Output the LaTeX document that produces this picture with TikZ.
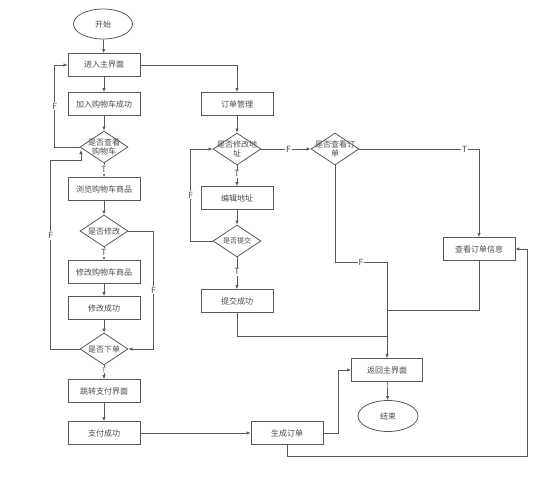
\documentclass[tikz,border=0pt]{standalone}
\usepackage{fontspec}
\newfontfamily\cjk{Noto Sans CJK SC}
\usetikzlibrary{shapes.geometric,arrows.meta}
\definecolor{lineclr}{HTML}{5A5A5A}
\definecolor{txtclr}{HTML}{4A4A4A}
\begin{document}
\begin{tikzpicture}[x=1pt,y=-1pt,every node/.style={font=\cjk\fontsize{8}{9}\selectfont,text=txtclr}]
    \tikzset{
      stepbox/.style={draw=lineclr,rectangle,line width=0.8pt,
        minimum width=72pt,minimum height=23pt,inner sep=1pt},
      term/.style={draw=lineclr,ellipse,line width=0.8pt,
        minimum width=59pt,minimum height=30pt,inner sep=1pt},
      dec/.style={draw=lineclr,diamond,line width=0.8pt,
        minimum width=48pt,minimum height=32pt,inner sep=0pt},
      dtext/.style={align=center,inner sep=0pt,font=\cjk\fontsize{8}{8.5}\selectfont},
      lbl/.style={fill=white,inner sep=1pt,font=\cjk\fontsize{8.5}{9}\selectfont},
      conn/.style={draw=lineclr,line width=0.7pt},
      arr/.style={conn,-{Latex[length=4pt,width=3.5pt]}}
    }
    \useasboundingbox (0,0) rectangle (546,484);

    % left column
    \node[term] (start) at (103,24) {开始};
    \node[stepbox] (main) at (104,65) {进入主界面};
    \node[stepbox] (addok) at (104,104) {加入购物车成功};
    \node[dec,label={[dtext]center:是否查看\\购物车}] (qcart) at (104,147) {};
    \coordinate (qcartin) at (81,150);
    \node[stepbox] (browse) at (104,189) {浏览购物车商品};
    \node[dec,label={[dtext]center:是否修改}] (qmod) at (104,231) {};
    \node[stepbox] (modgoods) at (104,272) {修改购物车商品};
    \node[stepbox] (modok) at (104,308) {修改成功};
    \node[dec,label={[dtext]center:是否下单}] (qorder) at (104,349) {};
    \node[stepbox] (jump) at (104,391) {跳转支付界面};
    \node[stepbox] (payok) at (104,433) {支付成功};

    % middle column
    \node[stepbox] (ordmgr) at (237,104) {订单管理};
    \node[dec,label={[dtext]center:是否修改地\\址}] (qaddr) at (237,149) {};
    \node[stepbox] (editaddr) at (237,198) {编辑地址};
    \node[dec,label={[dtext,font=\cjk\fontsize{7}{8}\selectfont]center:是否提交}] (qsubmit) at (237,241) {};
    \node[stepbox] (subok) at (237,301) {提交成功};
    \node[stepbox] (genorder) at (287,433) {生成订单};

    % right column
    \node[dec,label={[dtext]center:是否查看订\\单}] (qview) at (335,149) {};
    \node[stepbox] (viewinfo) at (479,249) {查看订单信息};
    \node[stepbox,minimum width=71pt] (back) at (387,370) {返回主界面};
    \node[term,minimum width=60pt,minimum height=31pt] (end) at (388,416) {结束};
    \coordinate (jF) at (387,262);

    % shopping cart flow
    \draw[arr] (start) -- (main);
    \draw[arr] (main) -- (addok);
    \draw[arr] (addok) -- (qcart);
    \draw[arr] (qcart.west) -- ++(-25,0) |- node[lbl,pos=0.25] {F} (main.west);
    \draw[arr] (qcart) -- node[lbl,pos=0.45] {T} (browse);
    \draw[arr] (browse) -- (qmod);
    \draw[arr] (qmod) -- node[lbl,pos=0.4] {T} (modgoods);
    \draw[arr] (modgoods) -- (modok);
    \draw[arr] (modok) -- (qorder);
    \draw[arr] (qmod.east) -- ++(25,0) |- node[lbl,pos=0.25] {F} (qorder.east);
    \draw[arr] (qorder.west) -- ++(-29,0) |- node[lbl,pos=0.3] {F} (81,160) -- (qcartin);
    \draw[arr] (qorder) -- node[lbl,pos=0.35,font=\cjk\fontsize{6}{7}\selectfont] {T} (jump);
    \draw[arr] (jump) -- (payok);
    \draw[arr] (payok) -- (genorder);
    \draw[arr] (genorder.east) -- ++(15,0) |- (back.west);
    \draw[arr] (genorder.south) |- (527,456) |- (viewinfo.east);

    % order management flow
    \draw[arr] (main.east) -| (ordmgr.north);
    \draw[arr] (ordmgr) -- (qaddr);
    \draw[arr] (qaddr.east) -- node[lbl,pos=0.55] {F} (qview.west);
    \draw[arr] (qaddr) -- node[lbl,pos=0.4] {T} (editaddr);
    \draw[arr] (editaddr) -- (qsubmit);
    \draw[arr] (qsubmit.west) -- ++(-22,0) |- node[lbl,pos=0.25] {F} (qaddr.west);
    \draw[arr] (qsubmit) -- node[lbl,pos=0.45] {T} (subok);
    \draw[arr] (qview.east) -| node[lbl,pos=0.44] {T} (viewinfo.north);
    \draw[arr] (qview.south) |- node[lbl,pos=0.75] {F} (jF) -- (back.north);
    \draw[conn] (viewinfo.south) |- (387,310);
    \draw[conn] (subok.south) |- (387,336);
    \draw[arr] (back) -- (end);
  \end{tikzpicture}
\end{document}
